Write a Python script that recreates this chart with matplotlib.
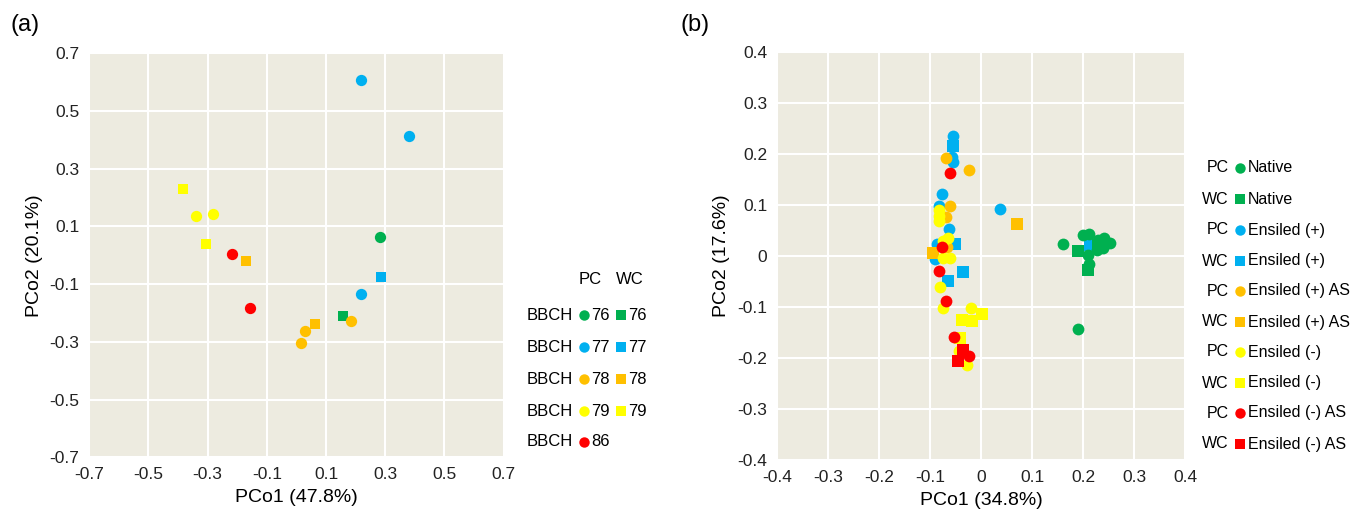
import numpy as np
import matplotlib
matplotlib.use("Agg")
import matplotlib.pyplot as plt

plt.rcParams['font.family'] = ['Liberation Sans', 'DejaVu Sans']

GREEN = '#00B050'
BLUE = '#00B0F0'
ORANGE = '#FFC000'
YELLOW = '#FFFF00'
RED = '#FF0000'
BG = '#EDEBE0'

# ---- panel (a) data: BBCH stages, PC (circle) / WC (square)
a_labels = ['76', '77', '78', '79', '86']
a_colors = [GREEN, BLUE, ORANGE, YELLOW, RED]
a_pc_x = [[0.284], [0.218, 0.381, 0.217], [0.186, 0.028, 0.016], [-0.340, -0.282], [-0.216, -0.157]]
a_pc_y = [[0.062], [0.607, 0.413, -0.135], [-0.228, -0.263, -0.303], [0.136, 0.142], [0.005, -0.184]]
a_wc_x = [[0.159], [0.285], [-0.172, 0.064], [-0.382, -0.306], []]
a_wc_y = [[-0.210], [-0.074], [-0.021, -0.238], [0.230, 0.040], []]

# ---- panel (b) data: treatments, PC (circle) / WC (square)
b_labels = ['Native', 'Ensiled (+)', 'Ensiled (+) AS', 'Ensiled (-)', 'Ensiled (-) AS']
b_colors = [GREEN, BLUE, ORANGE, YELLOW, RED]
b_pc_x = [
    [0.161, 0.199, 0.212, 0.229, 0.241, 0.253, 0.239, 0.227, 0.209, 0.212, 0.19],
    [-0.055, -0.057, -0.054, -0.076, -0.082, -0.062, -0.087, -0.090, 0.037],
    [-0.069, -0.024, -0.061, -0.069, -0.067],
    [-0.082, -0.082, -0.082, -0.064, -0.074, -0.074, -0.061, -0.080, -0.074, -0.020, -0.043, -0.028],
    [-0.060, -0.077, -0.082, -0.068, -0.052, -0.023],
]
b_pc_y = [
    [0.024, 0.042, 0.044, 0.032, 0.036, 0.026, 0.016, 0.012, 0.001, -0.016, -0.143],
    [0.235, 0.195, 0.185, 0.122, 0.099, 0.052, 0.024, -0.006, 0.093],
    [0.192, 0.168, 0.099, 0.076, 0.017],
    [0.091, 0.078, 0.068, 0.035, 0.029, -0.003, -0.003, -0.060, -0.102, -0.102, -0.187, -0.213],
    [0.163, 0.018, -0.030, -0.089, -0.159, -0.197],
]
b_wc_x = [
    [0.191, 0.210, 0.229],
    [-0.055, -0.051, -0.035, -0.065, 0.214],
    [0.070, -0.094],
    [0.001, -0.038, -0.018, -0.041],
    [-0.035, -0.045],
]
b_wc_y = [
    [0.009, -0.027, 0.022],
    [0.215, 0.024, -0.031, -0.049, 0.022],
    [0.063, 0.005],
    [-0.113, -0.125, -0.128, -0.161],
    [-0.185, -0.205],
]

fig = plt.figure(figsize=(13.52, 5.21), dpi=100)


def style_axes(ax, lim, step):
    ax.set_facecolor(BG)
    ax.set_xlim(-lim, lim)
    ax.set_ylim(-lim, lim)
    ticks = np.round(np.arange(-lim, lim + 1e-9, step), 2)
    ax.set_xticks(ticks)
    ax.set_yticks(ticks)
    ax.set_xticklabels(['0' if t == 0 else f'{t:g}' for t in ticks])
    ax.set_yticklabels(['0' if t == 0 else f'{t:g}' for t in ticks])
    ax.grid(True, color='white', linewidth=1.5)
    ax.set_axisbelow(True)
    for s in ax.spines.values():
        s.set_visible(False)
    ax.tick_params(length=0, labelsize=12.5, pad=7, colors='#222222')


# panel (a)
axa = fig.add_axes([0.066, 0.1223, 0.3065, 0.7754])
style_axes(axa, 0.7, 0.2)
for i in range(len(a_labels)):
    axa.scatter(a_pc_x[i], a_pc_y[i], s=66, marker='o', color=a_colors[i], linewidths=0, zorder=3)
    if a_wc_x[i]:
        axa.scatter(a_wc_x[i], a_wc_y[i], s=60, marker='s', color=a_colors[i], linewidths=0, zorder=3)
axa.set_xlabel('PCo1 (47.8%)', fontsize=14, labelpad=5)
axa.set_ylabel('PCo2 (20.1%)', fontsize=14, labelpad=5)

# panel (b)
axb = fig.add_axes([0.5747, 0.1171, 0.3018, 0.7831])
style_axes(axb, 0.4, 0.1)
order = [1, 2, 3, 4, 0]
for i in order:
    axb.scatter(b_pc_x[i], b_pc_y[i], s=72, marker='o', color=b_colors[i], linewidths=0, zorder=3)
    axb.scatter(b_wc_x[i], b_wc_y[i], s=66, marker='s', color=b_colors[i], linewidths=0, zorder=3)
axb.set_xlabel('PCo1 (34.8%)', fontsize=14, labelpad=5)
axb.set_ylabel('PCo2 (17.6%)', fontsize=14, labelpad=5)

# overlay in pixel coords for panel labels and legends
ov = fig.add_axes([0, 0, 1, 1])
ov.set_xlim(0, 1352)
ov.set_ylim(521, 0)
ov.axis('off')

ov.text(10, 25, '(a)', fontsize=17, va='center', ha='left')
ov.text(680, 25, '(b)', fontsize=17, va='center', ha='left')

# legend (a)
ov.text(590, 280, 'PC', fontsize=12, ha='center', va='center')
ov.text(630, 280, 'WC', fontsize=12, ha='center', va='center')
rows_a = [315, 347, 379, 411, 442]
for i, lab in enumerate(a_labels):
    yy = rows_a[i]
    ov.text(573, yy, 'BBCH', fontsize=12, ha='right', va='center')
    ov.plot([584], [yy], 'o', color=a_colors[i], ms=7.5, mew=0)
    ov.text(591, yy, lab, fontsize=12, ha='left', va='center')
    if a_wc_x[i]:
        ov.plot([621], [yy], 's', color=a_colors[i], ms=6.5, mew=0)
        ov.text(628, yy, lab, fontsize=12, ha='left', va='center')

# legend (b)
rows_b = [168, 199, 230, 261, 291, 322, 352, 383, 413, 444]
for i, lab in enumerate(b_labels):
    for j, (grp, mk) in enumerate([('PC', 'o'), ('WC', 's')]):
        yy = rows_b[2 * i + j]
        ov.text(1229, yy, grp, fontsize=11.5, ha='right', va='center')
        ov.plot([1240], [yy], mk, color=b_colors[i], ms=7.5 if mk == 'o' else 6.5, mew=0)
        ov.text(1248, yy, lab, fontsize=11.5, ha='left', va='center')

fig.savefig('out.png', dpi=100)
